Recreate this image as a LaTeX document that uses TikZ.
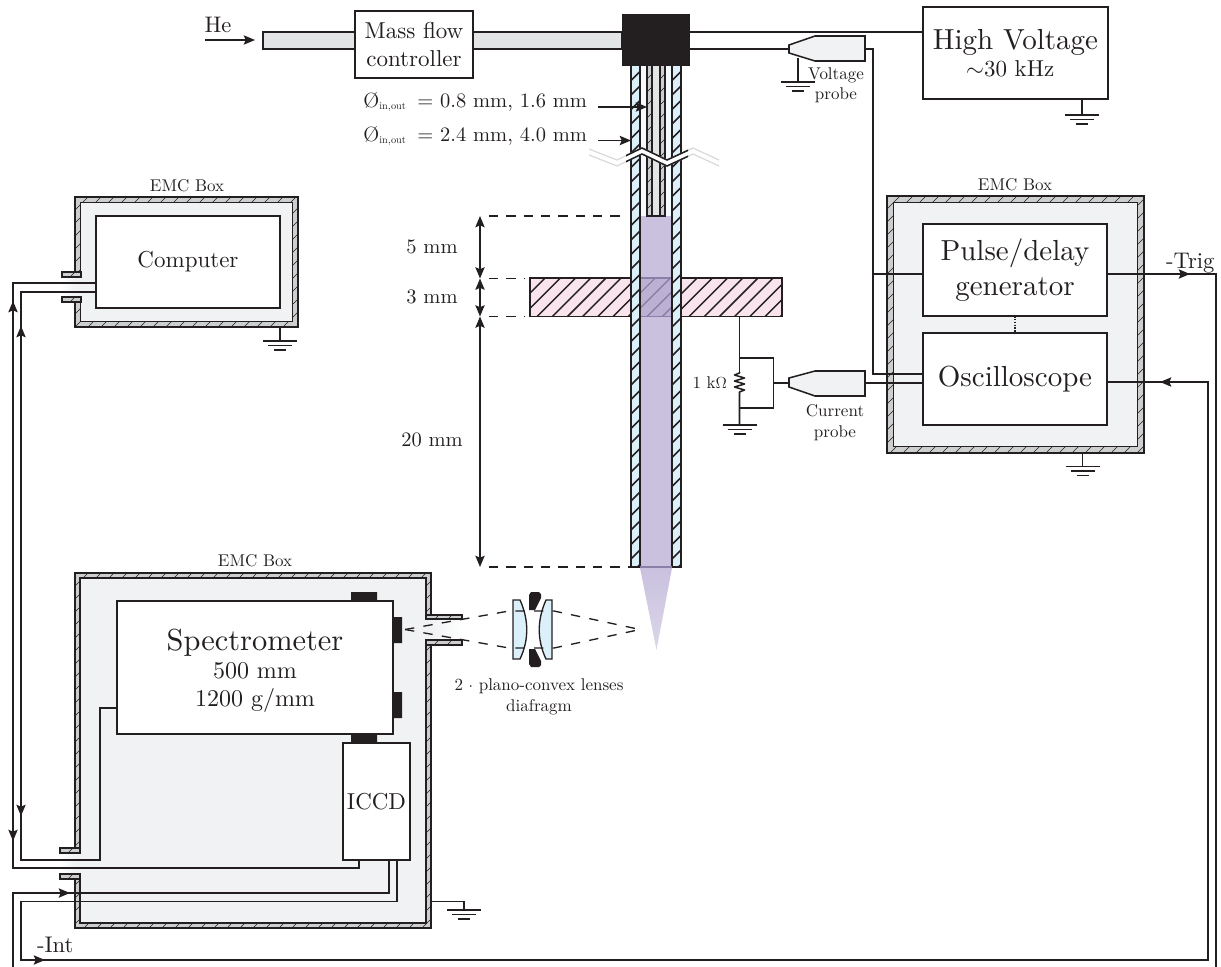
\documentclass[tikz,border=0pt]{standalone}
\usepackage{fontspec}
\setmainfont{lmroman10-regular}[Extension=.otf]
\usetikzlibrary{arrows.meta,calc}
\definecolor{ink}{HTML}{231F20}
\definecolor{wallc}{HTML}{CDCECF}
\definecolor{innerc}{HTML}{F1F2F4}
\definecolor{tubec}{HTML}{E3E4E6}
\definecolor{glassc}{HTML}{DCF0FA}
\definecolor{boreC}{HTML}{F4FAFE}
\definecolor{plasmaC}{HTML}{C9C1DE}
\definecolor{pinkC}{HTML}{F9E3EC}
\definecolor{overC}{HTML}{BDB1D3}
\definecolor{overH}{HTML}{8A7FA6}
\newcommand{\fsz}[1]{\fontsize{\fpeval{#1*0.75}}{\fpeval{#1*0.9}}\selectfont}
\newcommand{\hatchbox}[6]{\begin{scope}\clip (#1,#2) rectangle (#3,#4);
\pgfmathsetmacro{\hcA}{#1+#2}\pgfmathsetmacro{\hcB}{#3+#4}\pgfmathsetmacro{\hcC}{\hcA+#5}
\foreach \hc in {\hcA,\hcC,...,\hcB} \draw[#6] ({\hc-#2},#2) -- ({\hc-#4},#4);\end{scope}}
\newcommand{\bx}[7]{\node[box,#2,minimum width={(#5-#3)*0.75pt},minimum height={(#6-#4)*0.75pt}] (#1) at ({(#3+#5)/2},{(#4+#6)/2}) {#7};}
\newcommand{\emc}[5]{\fill[wallc] (#1,#2) rectangle (#3,#4);
\hatchbox{#1}{#2}{#3}{#4}{13}{thinh}
\filldraw[fill=innerc,draw=ink,line width=.85pt] ({#1+#5},{#2+#5}) rectangle ({#3-#5},{#4-#5});
\draw[ink,line width=.85pt] (#1,#2) rectangle (#3,#4);}
\newcommand{\port}[4]{\fill[wallc] (#1,#2) rectangle (#3,#4);
\hatchbox{#1}{#2}{#3}{#4}{13}{thinh}
\draw[ink,line width=.85pt] (#1,#2) rectangle (#3,#4);}
\newcommand{\gnd}[2]{\draw[wire] (#1-17,#2) -- (#1+17,#2) (#1-12,#2+4.5) -- (#1+12,#2+4.5) (#1-6,#2+9) -- (#1+6,#2+9);}
\tikzset{
 wire/.style={ink,line width=1.15pt},
 thinh/.style={ink,line width=.45pt},
 thickh/.style={ink,line width=1.1pt},
 box/.style={draw=ink,fill=white,line width=1.15pt,inner sep=0pt,outer sep=0pt,align=center,text=ink},
 lab/.style={inner sep=0pt,outer sep=0pt,align=center,text=ink},
 tipline/.style={wire,-{Stealth[length=8.5pt,width=7pt,inset=1.6pt]}},
 dbl/.style={wire,{Stealth[length=8.5pt,width=7pt,inset=1.6pt]}-{Stealth[length=8.5pt,width=7pt,inset=1.6pt]}},
 dimd/.style={ink,line width=1pt,dash pattern=on 7pt off 6pt},
 ray/.style={ink,line width=1pt,dash pattern=on 7pt off 7pt},
 probe/.style={fill=innerc,draw=ink,line width=1.15pt},
}
\begin{document}
\begin{tikzpicture}[x=.75pt,y=-.75pt]
\useasboundingbox (0,0) rectangle (1221,967);
% gas tube
\node[draw=ink,fill=tubec,line width=1.15pt,inner sep=0pt,outer sep=0pt,minimum width={(622-263)*.75pt},minimum height={17*.75pt}] (gas) at ({(263+622)/2},40.5) {};
\node[lab,anchor=base,font=\fsz{22.5}] (he) at (218,32) {He};
\coordinate (hea) at (205,40);
\coordinate (heb) at (255,40);
\draw[tipline] (hea) -- (heb);
\bx{mfc}{font=\fsz{23}}{355}{11}{473}{78}{Mass flow\\controller}
% plate
\fill[pinkC] (530,278) rectangle (782,316.5);
\hatchbox{530}{278}{782}{316.5}{15.2}{thickh}
\draw[wire] (530,278) rectangle (782,316.5);
\node[inner sep=0pt,outer sep=0pt,minimum width={252*.75pt},minimum height={38.5*.75pt}] (plate) at (656,297.25) {};
% tube interior
\fill[boreC] (640,66) rectangle (672,216);
\fill[plasmaC] (640,216) rectangle (672,567);
\fill[overC] (640,278) rectangle (672,316.5);
\hatchbox{640}{278}{672}{316.5}{15.2}{overH,line width=1pt}
\draw[overH,line width=1pt] (640,278) -- (672,278) (640,316.5) -- (672,316.5);
% electrode
\fill[tubec] (652,66) rectangle (660,216);
\fill[wallc] (647,66) rectangle (652,216) (660,66) rectangle (665,216);
\hatchbox{647}{66}{652}{216}{13}{thinh}
\hatchbox{660}{66}{665}{216}{13}{thinh}
\draw[wire] (647,66) -- (647,216) -- (665,216) -- (665,66) (652,66) -- (652,216) (660,66) -- (660,216);
% glass walls
\fill[glassc] (631,66) rectangle (640,567) (672,66) rectangle (681,567);
\hatchbox{631}{66}{640}{567}{14.5}{ink,line width=1.3pt}
\hatchbox{672}{66}{681}{567}{14.5}{ink,line width=1.3pt}
\draw[wire] (631,66) -- (631,567) -- (640,567) -- (640,66) (672,66) -- (672,567) -- (681,567) -- (681,66);
\draw[overH,line width=1pt] (640,567) -- (672,567);
% cone
\shade[top color=plasmaC,bottom color=plasmaC!65!white] (640,568) -- (672,568) -- (656.5,650) -- cycle;
% break
\fill[white] (589,149) -- (617,160) -- (642,148) -- (667,160) -- (693,148) -- (719,160) -- (719,166) -- (693,154) -- (667,166) -- (642,154) -- (617,166) -- (589,155) -- cycle;
\draw[black!15,line width=.9pt] (589,149) -- (617,160) -- (642,148) -- (667,160) -- (693,148) -- (719,160) (589,155) -- (617,166) -- (642,154) -- (667,166) -- (693,154) -- (719,166);
\begin{scope}\clip (626,140) rectangle (688,175);
\draw[wire] (617,160) -- (642,148) -- (667,160) -- (693,148) (617,166) -- (642,154) -- (667,166) -- (693,154);
\end{scope}
% black head
\node[fill=ink,draw=none,inner sep=0pt,outer sep=0pt,minimum width={68*.75pt},minimum height={52*.75pt}] (head) at (656,40) {};
% diameter labels
\node[lab,anchor=base east,font=\fsz{20.5}] (d1) at (587,107) {\O$_{\scriptscriptstyle\mathrm{in,out}}$\hspace{3pt} = 0.8 mm, 1.6 mm};
\node[lab,anchor=base east,font=\fsz{20.5}] (d2) at (587,141) {\O$_{\scriptscriptstyle\mathrm{in,out}}$\hspace{3pt} = 2.4 mm, 4.0 mm};
\coordinate (d1a) at (598,107); \coordinate (d1b) at (647,107);
\coordinate (d2a) at (598,140.5); \coordinate (d2b) at (631,140.5);
\draw[tipline] (d1a) -- (d1b);
\draw[tipline] (d2a) -- (d2b);
% dimensions
\coordinate (dA) at (480,216); \coordinate (dB) at (480,278.5); \coordinate (dC) at (480,316.5); \coordinate (dD) at (480,567);
\draw[dbl] (dA) -- (dB);
\draw[dbl] (dB) -- (dC);
\draw[dbl] (dC) -- (dD);
\draw[dimd] (489,216) -- (625,216);
\draw[dimd] (489,278.5) -- (524,278.5);
\draw[dimd] (489,316.5) -- (524,316.5);
\draw[dimd] (489,567) -- (631,567);
\node[lab,font=\fsz{20.5}] (l5) at (432,247) {5 mm};
\node[lab,font=\fsz{20.5}] (l3) at (432,297) {3 mm};
\node[lab,font=\fsz{20.5}] (l20) at (432,440) {20 mm};
% HV
\bx{hv}{font=\fsz{23}}{923}{7}{1108}{99}{\fsz{29}High Voltage\\\hspace*{-8pt}$\sim$30 kHz}
\draw[wire] (head.east |- 0,32) -- (hv.west |- 0,32);
\coordinate (gHV) at (1082,115);
\draw[wire] (hv.south -| 1082,0) -- (gHV); \gnd{1082}{115}
% voltage probe
\draw[wire] (head.east |- 0,48.8) -- (789,48.8);
\filldraw[probe] (789,45) -- (815,36) -- (865,36) -- (865,61) -- (815,61) -- (789,53) -- cycle;
\coordinate (vg) at (798,82);
\draw[wire] (798,58) -- (vg); \gnd{798}{82}
\node[lab,font=\fsz{17}] (vp) at (836,85.5) {Voltage\\probe};
% EMC right
\emc{887}{196}{1144}{453}{6.7}
\node[lab,font=\fsz{17}] (emcR) at (1015,185) {EMC Box};
\bx{pulse}{font=\fsz{29}}{923}{224}{1107}{316}{Pulse/delay\\generator}
\bx{osc}{font=\fsz{29}}{923}{333}{1107}{425}{Oscilloscope}
\draw[wire,densely dotted] (pulse.south) -- (osc.north);
\coordinate (gR) at (1082.5,466.5);
\draw[wire] (1082.5,453) -- (gR); \gnd{1082.5}{466.5}
\coordinate (vc1) at (873.2,48.8);
\coordinate (vc2) at (873.2,374);
\draw[wire] (865,48.8) -- (vc1) -- (vc2) -- (osc.west |- 0,374);
\draw[wire] (873.2,274) -- (pulse.west |- 0,274);
% current probe and resistor
\draw[wire] (739.5,316.5) -- (739.5,372);
\draw[wire] (739.5,358) -- (773.5,358) -- (773.5,408) -- (739.5,408);
\draw[wire,line join=round] (739.5,372) -- (739.5,373) -- (734.5,375) -- (744.5,378) -- (734.5,381) -- (744.5,384) -- (734.5,387) -- (744.5,390) -- (739.5,392) -- (739.5,425);
\gnd{739.5}{425}
\node[lab,anchor=east,font=\fsz{17}] (ohm) at (727,383) {1 k$\Omega$};
\draw[wire] (773.5,383) -- (789,383);
\filldraw[probe] (789,378) -- (815,371) -- (865,371) -- (865,396) -- (815,396) -- (789,387) -- cycle;
\draw[wire] (865,382.8) -- (osc.west |- 0,382.8);
\node[lab,font=\fsz{17}] (cp) at (835,422.5) {Current\\probe};
% EMC computer
\emc{75}{197}{298}{327}{5.5}
\fill[left color=white,right color=innerc] (60,277) rectangle (76,297);
\fill[innerc] (76,277) rectangle (82,297);
\port{62}{272}{81}{277}
\port{62}{297}{81}{302}
\node[lab,font=\fsz{17}] (emcC) at (187,186) {EMC Box};
\bx{comp}{font=\fsz{23}}{96}{216}{280}{308}{Computer}
\coordinate (gC) at (280,341);
\draw[wire] (280,327) -- (gC); \gnd{280}{341}
% EMC spectrometer
\emc{75}{573}{431}{928}{5}
\fill[left color=white,right color=innerc] (60,853) rectangle (76,874);
\fill[innerc] (76,853) rectangle (81,874);
\port{60}{848}{80}{853}
\port{60}{874}{80}{879}
\fill[left color=innerc,right color=white] (432,619) rectangle (462,640);
\fill[innerc] (425,619) rectangle (432,640);
\port{426}{615}{462}{619}
\port{426}{640}{462}{645}
\node[lab,font=\fsz{17}] (emcS) at (255,561) {EMC Box};
\fill[ink] (351,592) rectangle (377,601) (393,617) rectangle (402,643) (393,692) rectangle (402,718) (351,733) rectangle (377,743);
\bx{spec}{}{117}{601}{393}{734}{}
\node[lab,font=\fsz{24}] (spect) at (255,670.5) {\fsz{30.4}Spectrometer\\500 mm\\[-1pt]1200 g/mm};
\bx{iccd}{font=\fsz{23}}{343}{743}{410}{860}{ICCD}
\coordinate (gS) at (464,910);
\draw[wire] (431,901.5) -- (464,901.5) -- (gS); \gnd{464}{910}
% lenses
\filldraw[fill=glassc,draw=ink,line width=1pt] (513,600) -- (520,600) .. controls (529,620) and (529,640) .. (520,659) -- (513,659) -- cycle;
\filldraw[fill=glassc,draw=ink,line width=1pt] (552,600) -- (546,600) .. controls (537,620) and (537,640) .. (546,659) -- (552,659) -- cycle;
\fill[ink] (529,595) -- (531,592) -- (539,592) -- (541,594) -- (541,598) -- (535,610) -- (529,610) -- cycle;
\fill[ink] (529,664) -- (531,667) -- (539,667) -- (541,665) -- (541,661) -- (535,649) -- (529,649) -- cycle;
\coordinate (f1) at (405,629.5); \coordinate (f2) at (640,629.5);
\coordinate (lt1) at (509,611); \coordinate (lb1) at (509,648);
\coordinate (lt2) at (554,611); \coordinate (lb2) at (554,648);
\draw[ray] (f1) -- (lt1) -- (lt2) -- (f2);
\draw[ray] (f1) -- (lb1) -- (lb2) -- (f2);
\node[lab,font=\fsz{17}] (lens) at (539,697) {2 $\cdot$ plano-convex lenses\\diafragm};
% wiring left
\coordinate (w1) at (359,868); \coordinate (w2) at (13,868); \coordinate (w3) at (13,283);
\draw[wire] (iccd.south -| 359,0) -- (w1) -- (w2) -- (w3) -- (comp.west |- 0,283);
\coordinate (w4) at (21,292); \coordinate (w5) at (21,860); \coordinate (w6) at (100,860); \coordinate (w7) at (100,708);
\draw[wire] (comp.west |- 0,292) -- (w4) -- (w5) -- (w6) -- (w7) -- (spec.west |- 0,708);
\draw[tipline] (13,315) -- (13,301);
\draw[tipline] (21,340) -- (21,326);
\draw[tipline] (21,802) -- (21,816);
\draw[tipline] (13,827) -- (13,841);
% triggers
\coordinate (t1) at (1216,274); \coordinate (t2) at (1216,967); \coordinate (t4) at (13,967); \coordinate (t4b) at (13,893); \coordinate (t5) at (389,893);
\draw[wire] (pulse.east |- 0,274) -- (t1) -- (t2);
\draw[wire] (t4) -- (t4b) -- (t5) -- (iccd.south -| 389,0);
\coordinate (i1) at (1208,382); \coordinate (i2) at (1208,960); \coordinate (i3) at (21,960); \coordinate (i4) at (21,901.5); \coordinate (i5) at (397,901.5);
\draw[wire] (osc.east |- 0,382) -- (i1) -- (i2) -- (i3) -- (i4) -- (i5) -- (iccd.south -| 397,0);
\draw[tipline] (1170,274) -- (1190,274);
\draw[tipline] (1190,382) -- (1160,382);
\draw[tipline] (30,960) -- (45,960);
\draw[tipline] (38,893) -- (70,893);
\node[lab,anchor=base west,font=\fsz{22.6}] (trig) at (1166,268) {-Trig};
\node[lab,anchor=base west,font=\fsz{22.6}] (int) at (37,952) {-Int};
\end{tikzpicture}
\end{document}
